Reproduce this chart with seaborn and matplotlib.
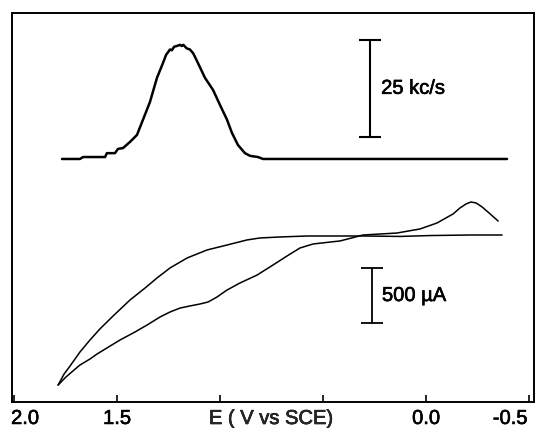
import numpy as np
import pandas as pd
import matplotlib
matplotlib.use("Agg")
import matplotlib.pyplot as plt
import matplotlib.transforms as mtransforms
import matplotlib.patheffects as pe
import seaborn as sns

# Cyclic voltammogram, two branches: potential (V vs SCE) and current (µA)
cv_upper_E = [1.786, 1.757, 1.728, 1.680, 1.631, 1.583, 1.519, 1.437, 1.364, 1.306,
              1.243, 1.160, 1.063, 0.966, 0.869, 0.806, 0.709, 0.578, 0.417, 0.306,
              0.126, -0.019, -0.214, -0.369]
cv_upper_I = [-1355, -1255, -1182, -1055, -945, -845, -727, -582, -473, -382,
              -291, -200, -127, -82, -36, -18, -9, 0, 0, 0,
              -4, 4, 9, 9]

cv_lower_E = [1.786, 1.748, 1.714, 1.680, 1.631, 1.597, 1.549, 1.485, 1.413, 1.354,
              1.291, 1.243, 1.194, 1.146, 1.097, 1.058, 1.015, 0.966, 0.903, 0.820,
              0.743, 0.675, 0.612, 0.549, 0.466, 0.417, 0.306, 0.141, 0.029, -0.053,
              -0.131, -0.165, -0.194, -0.218, -0.243, -0.272, -0.306, -0.350]
cv_lower_I = [-1355, -1282, -1227, -1173, -1118, -1073, -1018, -945, -873, -809,
              -736, -691, -655, -636, -618, -600, -555, -491, -427, -355,
              -264, -182, -109, -73, -55, -45, 9, 27, 64, 118,
              200, 255, 291, 309, 300, 264, 209, 136]

# Emission intensity (kc/s) recorded during the scan
em_E = [1.767, 1.680, 1.665, 1.558, 1.549, 1.510, 1.495, 1.471, 1.437, 1.403,
        1.374, 1.340, 1.306, 1.277, 1.262, 1.251, 1.243, 1.234, 1.223, 1.210,
        1.194, 1.186, 1.178, 1.162, 1.146, 1.130, 1.107, 1.073, 1.034, 1.000,
        0.966, 0.942, 0.913, 0.879, 0.854, 0.816, 0.791, -0.393]
em_counts = [0.0, 0.0, 0.5, 0.5, 1.5, 1.5, 2.6, 2.8, 4.4, 6.2,
             10.1, 14.7, 20.9, 24.7, 26.8, 27.6, 28.2, 28.0, 28.9, 29.1,
             29.4, 29.1, 29.4, 28.5, 28.2, 27.2, 24.7, 20.9, 17.8, 13.9,
             10.1, 6.7, 3.6, 1.5, 0.8, 0.5, 0.0, 0.0]

# Scale bars
em_bar_E, em_bar_low, em_bar_len, em_bar_text = 0.272, 5.7, 25.0, "25 kc/s"
cv_bar_E, cv_bar_low, cv_bar_len, cv_bar_text = 0.262, -791.0, 500.0, "500 \u00b5A"

x_ticks = [2.0, 1.5, 1.0, 0.5, 0.0, -0.5]
x_tick_labels = ["2.0", "1.5", "", "", "0.0", "-0.5"]
x_label = "E ( V vs SCE)"

sns.set_theme(style="white")
plt.rcParams["font.family"] = ["Liberation Sans", "DejaVu Sans"]
FS = 14.5
# slightly heavier lettering
heavy = [pe.withStroke(linewidth=0.45, foreground="black")]

fig = plt.figure(figsize=(5.37, 4.28), dpi=100)
ax = fig.add_axes([12 / 537, 26 / 428, 522 / 537, 389 / 428])
ax2 = ax.twinx()

cv_up = pd.DataFrame({"E": cv_upper_E, "I": cv_upper_I})
cv_lo = pd.DataFrame({"E": cv_lower_E, "I": cv_lower_I})
em = pd.DataFrame({"E": em_E, "counts": em_counts})

sns.lineplot(data=cv_up, x="E", y="I", ax=ax, color="black", lw=1.1,
             sort=False, estimator=None)
sns.lineplot(data=cv_lo, x="E", y="I", ax=ax, color="black", lw=1.1,
             sort=False, estimator=None)
sns.lineplot(data=em, x="E", y="counts", ax=ax2, color="black", lw=1.8,
             sort=False, estimator=None)

# Scale bars
ax2.errorbar([em_bar_E], [em_bar_low + em_bar_len / 2], yerr=[em_bar_len / 2],
             color="black", lw=1.5, capsize=8, capthick=1.5, fmt="none")
ax2.text(em_bar_E - 0.054, em_bar_low + em_bar_len / 2, em_bar_text,
         ha="left", va="center", fontsize=FS, color="black", path_effects=heavy)
ax.errorbar([cv_bar_E], [cv_bar_low + cv_bar_len / 2], yerr=[cv_bar_len / 2],
            color="black", lw=1.3, capsize=8, capthick=1.3, fmt="none")
ax.text(cv_bar_E - 0.048, cv_bar_low + cv_bar_len / 2, cv_bar_text,
        ha="left", va="center", fontsize=FS, color="black", path_effects=heavy)

ax.set_xlim(2.0097, -0.524)
ax.set_ylim(-1509, 2027)
ax2.set_ylim(-62.6, 37.6)

ax.set_xticks(x_ticks)
ax.set_xticklabels(x_tick_labels, fontsize=FS)
ax.tick_params(axis="x", direction="in", length=5, width=1.2, pad=5,
               colors="black", bottom=True, top=False)
ax.set_yticks([])
ax2.set_yticks([])
ax.set_xlabel(x_label, fontsize=FS, path_effects=heavy)
ax.xaxis.set_label_coords(0.496, -7.0 / 389)
ax.xaxis.label.set_va("top")
ax.set_ylabel("")
ax2.set_ylabel("")

labels = ax.get_xticklabels()
for lab in labels:
    lab.set_path_effects(heavy)
labels[0].set_transform(labels[0].get_transform() +
                        mtransforms.ScaledTranslation(0.11, 0, fig.dpi_scale_trans))
labels[-1].set_transform(labels[-1].get_transform() +
                         mtransforms.ScaledTranslation(-0.19, 0, fig.dpi_scale_trans))

for s in ax.spines.values():
    s.set_visible(True)
    s.set_color("black")
    s.set_linewidth(1.4)
for s in ax2.spines.values():
    s.set_visible(False)

fig.savefig("out.png", dpi=100, facecolor="white")
